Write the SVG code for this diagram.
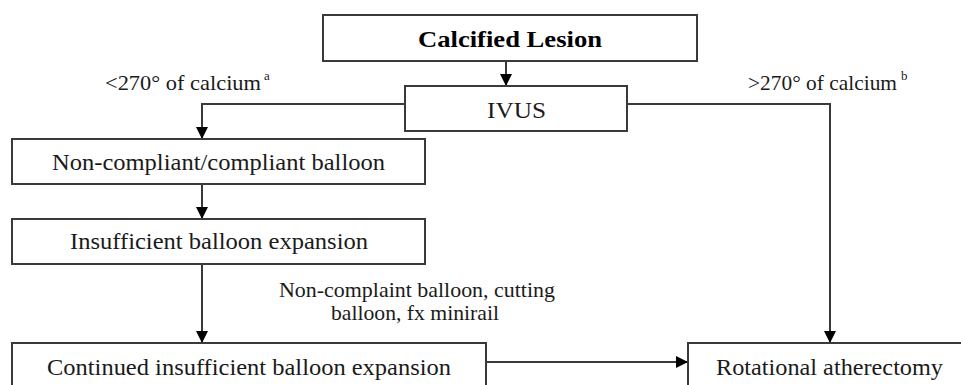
<svg xmlns="http://www.w3.org/2000/svg" width="961" height="385" viewBox="0 0 961 385">
<style>
text{font-family:'Liberation Serif','Tinos','Times New Roman','Noto Serif','DejaVu Serif',serif;fill:#1a1a1a}
.box{fill:#fff;stroke:#3a3a3a;stroke-width:2}
.t{font-size:24px;text-anchor:middle}
.lbl{font-size:22px}
.sup{font-size:13px}
.b{font-weight:bold;fill:#000}
.ln{fill:none;stroke:#3a3a3a;stroke-width:2;marker-end:url(#ah)}
</style>
<defs>
<marker id="ah" markerUnits="userSpaceOnUse" markerWidth="14" markerHeight="14" viewBox="0 0 14 14" refX="12" refY="7" orient="auto">
<path d="M0,1 L12,7 L0,13 Z" fill="#000"/>
</marker>
</defs>
<rect width="961" height="385" fill="#fff"/>
<g id="connectors">
<path class="ln" d="M506,61 V86"/>
<path class="ln" d="M405,104 H202 V139"/>
<path class="ln" d="M627,104 H830 V343"/>
<path class="ln" d="M202,184 V219"/>
<path class="ln" d="M202,264 V343"/>
<path class="ln" d="M486,362 H688"/>
</g>
<g id="calcified-lesion">
<rect class="box" x="323" y="15" width="374" height="46"/>
<text class="t b" x="510" y="47" textLength="184" lengthAdjust="spacingAndGlyphs">Calcified Lesion</text>
</g>
<g id="ivus">
<rect class="box" x="405" y="86" width="222" height="45"/>
<text class="t" x="516.5" y="118" textLength="59" lengthAdjust="spacingAndGlyphs">IVUS</text>
</g>
<g id="label-less">
<text class="lbl" x="105" y="90" textLength="156" lengthAdjust="spacingAndGlyphs">&lt;270° of calcium</text>
<text class="sup" x="264" y="80">a</text>
</g>
<g id="label-more">
<text class="lbl" x="748" y="90" textLength="149" lengthAdjust="spacingAndGlyphs">&gt;270° of calcium</text>
<text class="sup" x="901" y="80">b</text>
</g>
<g id="non-compliant">
<rect class="box" x="12" y="139" width="413" height="45"/>
<text class="t" x="218.5" y="170" textLength="333" lengthAdjust="spacingAndGlyphs">Non-compliant/compliant balloon</text>
</g>
<g id="insufficient">
<rect class="box" x="12" y="219" width="413" height="45"/>
<text class="t" x="219" y="249" textLength="298" lengthAdjust="spacingAndGlyphs">Insufficient balloon expansion</text>
</g>
<g id="label-devices">
<text class="lbl" text-anchor="middle" x="417" y="297" textLength="276" lengthAdjust="spacingAndGlyphs">Non-complaint balloon, cutting</text>
<text class="lbl" text-anchor="middle" x="415" y="320" textLength="168" lengthAdjust="spacingAndGlyphs">balloon, fx minirail</text>
</g>
<g id="continued">
<rect class="box" x="12" y="343" width="474" height="55"/>
<text class="t" x="249" y="375" textLength="404" lengthAdjust="spacingAndGlyphs">Continued insufficient balloon expansion</text>
</g>
<g id="rotational">
<rect class="box" x="688" y="343" width="290" height="55"/>
<text class="t" x="829.5" y="375" textLength="227" lengthAdjust="spacingAndGlyphs">Rotational atherectomy</text>
</g>
</svg>
